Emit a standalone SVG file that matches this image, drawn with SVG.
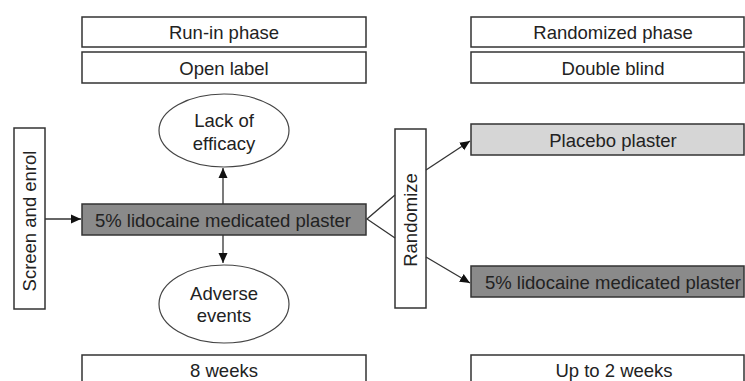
<svg xmlns="http://www.w3.org/2000/svg" width="745" height="381" viewBox="0 0 745 381">
<defs>
<style>
.box{fill:#fff;stroke:#333;stroke-width:1.5}
.dark{fill:#8a8a8a;stroke:#333;stroke-width:1.5}
.light{fill:#d6d6d6;stroke:#333;stroke-width:1.5}
.ell{fill:#fff;stroke:#444;stroke-width:1.2}
text{font-family:"Liberation Sans",Arial,sans-serif;font-size:18.5px;fill:#222;text-anchor:middle}
.conn{stroke:#333;stroke-width:1.3;fill:none}
</style>
<marker id="ah" viewBox="0 0 10 10" refX="10" refY="5" markerWidth="10" markerHeight="10" markerUnits="userSpaceOnUse" orient="auto">
<path d="M0,0.5 L10,5 L0,9.5 z" fill="#111"/>
</marker>
</defs>
<rect width="745" height="381" fill="#fff"/>
<g id="runin"><rect class="box" x="82" y="17" width="284" height="30"/><text x="224" y="38.5">Run-in phase</text></g>
<g id="openlabel"><rect class="box" x="82" y="52" width="284" height="31"/><text x="224" y="74.5">Open label</text></g>
<g id="randphase"><rect class="box" x="471" y="17" width="273" height="30"/><text x="613" y="38.5">Randomized phase</text></g>
<g id="doubleblind"><rect class="box" x="471" y="52" width="273" height="31"/><text x="613" y="74.5">Double blind</text></g>
<g id="lack"><ellipse class="ell" cx="224" cy="130.5" rx="65" ry="36.5"/><text x="224" y="127">Lack of</text><text x="224" y="150">efficacy</text></g>
<g id="screen"><rect class="box" x="14" y="128" width="31" height="181"/><text transform="translate(36,221) rotate(-90)">Screen and enrol</text></g>
<g id="main"><rect class="dark" x="82" y="204" width="284" height="31"/><text x="223" y="226.5">5% lidocaine medicated plaster</text></g>
<g id="adverse"><ellipse class="ell" cx="224" cy="304" rx="65" ry="39"/><text x="224" y="300">Adverse</text><text x="224" y="322">events</text></g>
<g id="randomize"><rect class="box" x="395" y="129" width="31" height="179"/><text transform="translate(417,220) rotate(-90)">Randomize</text></g>
<g id="placebo"><rect class="light" x="471" y="124" width="273" height="31"/><text x="613" y="146.5">Placebo plaster</text></g>
<g id="lido2"><rect class="dark" x="471" y="266" width="273" height="31"/><text x="613" y="288.5">5% lidocaine medicated plaster</text></g>
<g id="weeks8"><rect class="box" x="82" y="355" width="284" height="40"/><text x="224" y="377">8 weeks</text></g>
<g id="weeks2"><rect class="box" x="471" y="355" width="273" height="40"/><text x="614" y="377">Up to 2 weeks</text></g>
<g id="connectors">
<line class="conn" x1="45" y1="219" x2="81" y2="219" marker-end="url(#ah)"/>
<line class="conn" x1="223" y1="204" x2="223" y2="168" marker-end="url(#ah)"/>
<line class="conn" x1="223" y1="235" x2="223" y2="263" marker-end="url(#ah)"/>
<polyline class="conn" points="395,195 367,219 395,238"/>
<line class="conn" x1="426" y1="170" x2="470" y2="141" marker-end="url(#ah)"/>
<line class="conn" x1="426" y1="257" x2="470" y2="283" marker-end="url(#ah)"/>
</g>
</svg>
